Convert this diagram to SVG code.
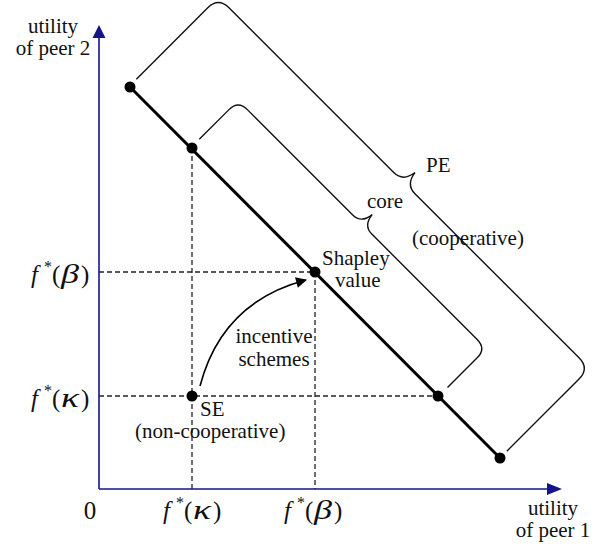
<svg xmlns="http://www.w3.org/2000/svg" width="612" height="544" viewBox="0 0 612 544">
<defs>
<style>
.t{font-family:"Liberation Serif","Times New Roman",serif;font-size:21px;fill:#111}
.m{font-family:"Liberation Serif","Times New Roman",serif;font-size:25px;fill:#111}
.i{font-style:italic}
.g{font-style:italic;font-size:27px}
.s{font-size:16px}
.axis{stroke:#15158a;stroke-width:1.6;fill:none}
.dash{stroke:#222;stroke-width:1.3;stroke-dasharray:5,3;fill:none}
.brace{stroke:#111;stroke-width:1.4;fill:none}
.dot{fill:#000}
</style>
<marker id="ah" viewBox="0 0 10 10" refX="9" refY="5" markerWidth="17" markerHeight="11" markerUnits="userSpaceOnUse" orient="auto">
<path d="M0,0 L10,5 L0,10 Z" fill="#000"/>
</marker>
</defs>
<rect width="612" height="544" fill="#fff"/>

<g id="axes">
<line class="axis" x1="99" y1="489" x2="99" y2="36"/>
<path d="M99,25 L92.5,38 L105.5,38 Z" fill="#15158a"/>
<line class="axis" x1="99" y1="489" x2="550" y2="489"/>
<path d="M562,489 L547,483 L547,495 Z" fill="#15158a"/>
<text class="t" x="53" y="33" text-anchor="middle">utility</text>
<text class="t" x="53" y="55" text-anchor="middle">of peer 2</text>
<text class="t" x="553" y="515" text-anchor="middle">utility</text>
<text class="t" x="553" y="537" text-anchor="middle">of peer 1</text>
<text class="m" x="90" y="519" text-anchor="middle">0</text>
</g>

<g id="connectors">
<line class="dash" x1="99" y1="272" x2="315" y2="272"/>
<line class="dash" x1="99" y1="396" x2="438" y2="396"/>
<line class="dash" x1="192" y1="148" x2="192" y2="489"/>
<line class="dash" x1="315" y1="272" x2="315" y2="489"/>
<line x1="130" y1="87" x2="500" y2="458" stroke="#000" stroke-width="3"/>
<path d="M200,386 Q222,302 306,280" stroke="#000" stroke-width="1.6" fill="none" marker-end="url(#ah)"/>
<g transform="translate(130,87) rotate(45)">
<path class="brace" d="M-1,-10 L-1,-111 Q-1,-126 14,-126 L247,-126 Q260,-126 262,-141 Q264,-126 277,-126 L509,-126 Q524,-126 524,-111 L524,-9"/>
<path class="brace" d="M86,-12 L86,-54 Q86,-67 99,-67 L248,-67 Q260,-67 261.5,-81 Q263,-67 275,-67 L424,-67 Q437,-67 437,-54 L437,-12"/>
</g>
</g>

<g id="label-fb-y"><text class="m" y="283"><tspan class="i" x="31">f</tspan><tspan class="s" x="44" dy="-11">*</tspan><tspan x="52" dy="11">(</tspan><tspan class="g" x="61" textLength="18" lengthAdjust="spacingAndGlyphs">β</tspan><tspan x="81">)</tspan></text></g>
<g id="label-fk-y"><text class="m" y="407"><tspan class="i" x="31">f</tspan><tspan class="s" x="44" dy="-11">*</tspan><tspan x="52" dy="11">(</tspan><tspan class="g" x="61" textLength="18" lengthAdjust="spacingAndGlyphs">κ</tspan><tspan x="81">)</tspan></text></g>
<g id="label-fk-x"><text class="m" y="519"><tspan class="i" x="163">f</tspan><tspan class="s" x="176" dy="-11">*</tspan><tspan x="184" dy="11">(</tspan><tspan class="g" x="193" textLength="18" lengthAdjust="spacingAndGlyphs">κ</tspan><tspan x="213">)</tspan></text></g>
<g id="label-fb-x"><text class="m" y="519"><tspan class="i" x="284">f</tspan><tspan class="s" x="297" dy="-11">*</tspan><tspan x="305" dy="11">(</tspan><tspan class="g" x="314" textLength="18" lengthAdjust="spacingAndGlyphs">β</tspan><tspan x="334">)</tspan></text></g>

<g id="pe-top"><circle class="dot" cx="130" cy="87" r="5.5"/></g>
<g id="core-top"><circle class="dot" cx="192" cy="148" r="5.5"/></g>
<g id="shapley"><circle class="dot" cx="315" cy="272" r="5.5"/>
<text class="t" x="322" y="265">Shapley</text>
<text class="t" x="335" y="287">value</text></g>
<g id="core-bottom"><circle class="dot" cx="438" cy="396" r="5.5"/></g>
<g id="pe-bottom"><circle class="dot" cx="500" cy="458" r="5.5"/></g>
<g id="se"><circle class="dot" cx="192" cy="396" r="5.5"/>
<text class="t" x="200" y="416">SE</text>
<text class="t" x="135" y="438">(non-cooperative)</text></g>

<g id="labels">
<text class="t" x="426" y="172">PE</text>
<text class="t" x="367" y="208">core</text>
<text class="t" x="412" y="245">(cooperative)</text>
<text class="t" x="274" y="343" text-anchor="middle">incentive</text>
<text class="t" x="274" y="366" text-anchor="middle">schemes</text>
</g>
</svg>
